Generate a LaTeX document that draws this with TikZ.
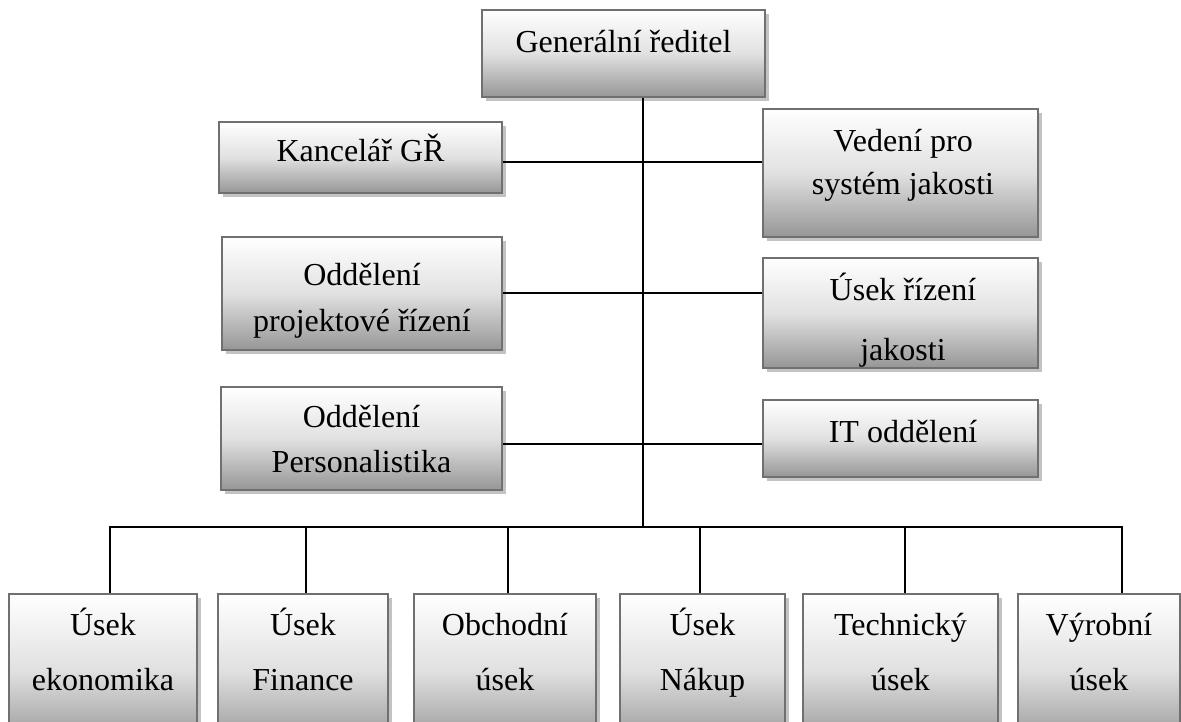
\documentclass[tikz,border=0pt]{standalone}
\usepackage{fontspec}
\setmainfont{Liberation Serif}
\usetikzlibrary{shadows}
\tikzset{
  orgbox/.style={rectangle, draw={rgb,255:red,112;green,112;blue,112}, line width=2pt,
    top color=white, bottom color={rgb,255:red,150;green,150;blue,150},
    middle color={rgb,255:red,225;green,225;blue,225},
    inner sep=0pt,
    drop shadow={shadow xshift=4pt, shadow yshift=-4pt, fill={rgb,255:red,195;green,195;blue,195}, opacity=1}},
  lbl/.style={anchor=base, inner sep=0pt, font=\fontsize{32}{40}\selectfont},
  conn/.style={draw=black, line width=2.5pt}
}
\newcommand\obox[5]{\node[orgbox, minimum width={#4pt-#2pt}, minimum height={#5pt-#3pt}] (#1) at ({(#2+#4)/2},{(#3+#5)/2}) {};}
\begin{document}
\begin{tikzpicture}[x=1pt,y=-1pt]
\useasboundingbox (0,0) rectangle (1181,722);
\clip (0,0) rectangle (1181,722);
% boxes
\obox{gr}{482}{10}{765}{97}
\obox{kanc}{219}{122}{502}{193}
\obox{ved}{763}{109}{1038}{237}
\obox{proj}{222}{237}{502}{350}
\obox{rizj}{763}{258}{1038}{368}
\obox{pers}{221}{387}{502}{490}
\obox{it}{763}{400}{1038}{477}
\obox{eko}{9}{594}{197}{745}
\obox{fin}{218}{594}{388}{745}
\obox{obch}{414}{594}{596}{745}
\obox{nak}{620}{594}{785}{745}
\obox{tech}{803}{594}{998}{745}
\obox{vyr}{1018}{594}{1180}{745}
% junction coordinates
\coordinate (jA) at (643,162);
\coordinate (jB) at (643,293);
\coordinate (jC) at (643,444);
\coordinate (bus) at (643,527);
\coordinate (b1) at (110,527);
\coordinate (b2) at (306,527);
\coordinate (b3) at (508,527);
\coordinate (b4) at (700,527);
\coordinate (b5) at (905,527);
\coordinate (b6) at (1122,527);
% connectors
\draw[conn] (gr.south -| bus) -- (bus);
\draw[conn] (kanc.east |- jA) -- (ved.west |- jA);
\draw[conn] (proj.east |- jB) -- (rizj.west |- jB);
\draw[conn] (pers.east |- jC) -- (it.west |- jC);
\draw[conn] (eko.north -| b1) -- (b1) -- (b6) -- (vyr.north -| b6);
\draw[conn] (b2) -- (fin.north -| b2);
\draw[conn] (b3) -- (obch.north -| b3);
\draw[conn] (b4) -- (nak.north -| b4);
\draw[conn] (b5) -- (tech.north -| b5);
% texts
\node[lbl] (t1) at (623.5,53) {Generální ředitel};
\node[lbl] (t2) at (360.5,162) {Kancelář GŘ};
\node[lbl] (t3) at (903,152) {Vedení pro};
\node[lbl] (t4) at (903,195) {systém jakosti};
\node[lbl] (t5) at (362,285) {Oddělení};
\node[lbl] (t6) at (362,331) {projektové řízení};
\node[lbl] (t7) at (903,300) {Úsek řízení};
\node[lbl] (t8) at (903,360) {jakosti};
\node[lbl] (t9) at (361.5,427) {Oddělení};
\node[lbl] (t10) at (361.5,472) {Personalistika};
\node[lbl] (t11) at (903,442) {IT oddělení};
\node[lbl] (t12) at (103,635) {Úsek};
\node[lbl] (t13) at (103,690) {ekonomika};
\node[lbl] (t14) at (303,635) {Úsek};
\node[lbl] (t15) at (303,690) {Finance};
\node[lbl] (t16) at (505,635) {Obchodní};
\node[lbl] (t17) at (505,690) {úsek};
\node[lbl] (t18) at (702.5,635) {Úsek};
\node[lbl] (t19) at (702.5,690) {Nákup};
\node[lbl] (t20) at (900.5,635) {Technický};
\node[lbl] (t21) at (900.5,690) {úsek};
\node[lbl] (t22) at (1099,635) {Výrobní};
\node[lbl] (t23) at (1099,690) {úsek};
\end{tikzpicture}
\end{document}
